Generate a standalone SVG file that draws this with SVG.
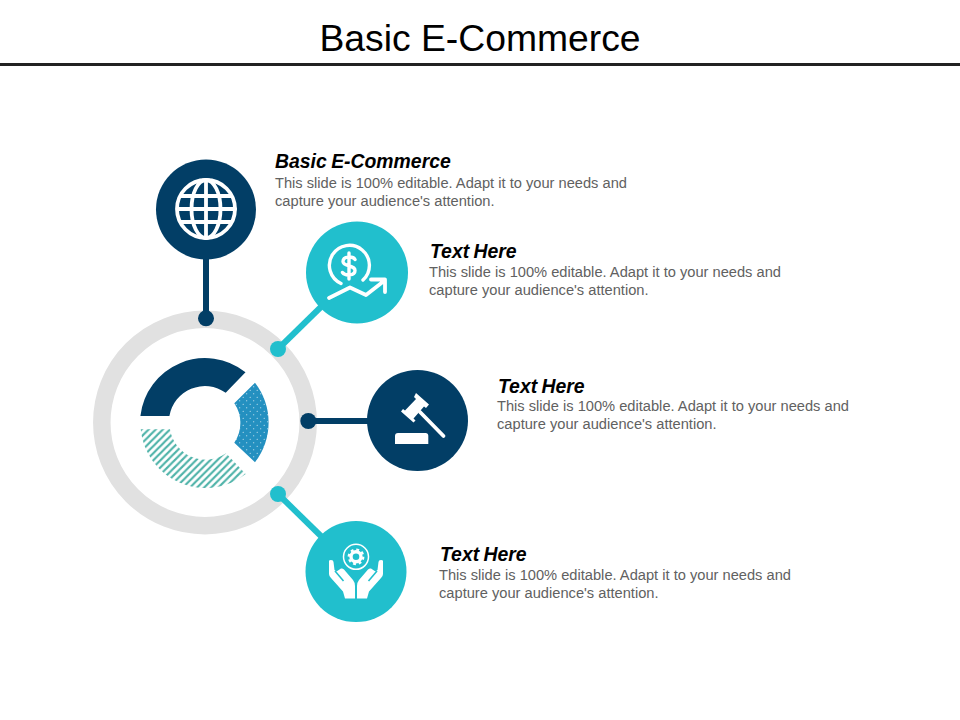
<svg xmlns="http://www.w3.org/2000/svg" width="960" height="720" viewBox="0 0 960 720">
<style>
.t{font-family:"Liberation Sans",Arial,sans-serif}
.h{font-size:19.4px;font-weight:bold;font-style:italic;fill:#000;word-spacing:-1px}
.b{font-size:14.67px;fill:#616161}
.navy{fill:#023e66}.teal{fill:#21bfcd}
.ln{fill:none;stroke-width:6}
.ic{fill:none;stroke:#fff;stroke-linecap:round;stroke-linejoin:round}
.wf{fill:#fff}
</style>
<defs>
<pattern id="hatch" width="7.1" height="7.1" patternUnits="userSpaceOnUse" patternTransform="translate(1 2)">
<path d="M-2 9.100L9.100-2M-5.550 5.550L5.550-5.550M1.550 12.650L12.650 1.550" stroke="#4fb3a9" stroke-width="2.100" fill="none"/>
</pattern>
<pattern id="dots" width="7" height="7" patternUnits="userSpaceOnUse">
<rect width="7" height="7" fill="#2490c0"/>
<circle cx="1.7" cy="1.7" r=".55" fill="#e4f2f8"/><circle cx="5.2" cy="5.2" r=".55" fill="#e4f2f8"/>
</pattern>
<g id="hand">
<path class="wf" d="M329 561Q329 560 331 560Q333.500 560 333.500 562L334.500 570L336.500 571.500L341 568.500Q342.500 568 344 569.500L353 580Q355 582.500 355 586V598.500H345L343 591.500L331 578Q329 576 329 574Z"/>
<path d="M335 571L343.500 581" stroke="#21bfcd" stroke-width="1.600" fill="none"/>
</g>
</defs>
<rect width="960" height="720" fill="#fff"/>
<g id="title">
<text class="t" x="480" y="51" text-anchor="middle" font-size="37.300" fill="#000">Basic E-Commerce</text>
<rect x="0" y="63" width="960" height="3" fill="#222"/>
</g>
<g id="hub">
<circle cx="205" cy="422.500" r="103.200" fill="none" stroke="#e1e1e1" stroke-width="17.500"/>
<path class="navy" d="M140.400 416A65 65 0 0 1 245.500 372.300L225.700 392.700A36 36 0 0 0 169.400 416Z"/>
<path fill="url(#dots)" d="M255 382.700A65 65 0 0 1 255 462.300L234.300 442.700A35 35 0 0 0 234.300 403.300Z"/>
<path fill="url(#hatch)" d="M140.700 429.300H170A36 36 0 0 0 226 453.300L245.700 474A65 65 0 0 1 140.700 429.300Z"/>
</g>
<g id="connectors">
<path class="ln" stroke="#023e66" d="M206 255V318"/>
<path class="ln" stroke="#21bfcd" d="M278 349L325 303"/>
<path class="ln" stroke="#023e66" d="M308 421H370"/>
<path class="ln" stroke="#21bfcd" d="M278 494L325 540"/>
<circle class="navy" cx="206" cy="318.300" r="8"/>
<circle class="teal" cx="278" cy="349" r="8"/>
<circle class="navy" cx="308.300" cy="421" r="8"/>
<circle class="teal" cx="278" cy="494" r="8"/>
</g>
<g id="node1">
<circle class="navy" cx="206" cy="209.500" r="50"/>
<g class="ic" stroke-width="3.800">
<circle cx="206" cy="209" r="29"/>
<ellipse cx="206" cy="209" rx="14.500" ry="29"/>
<path d="M206 180V238M178 209H235M181 196H231M181 222H231"/>
</g>
<text class="t h" x="275" y="168">Basic E-Commerce</text>
<text class="t b" x="275" y="188">This slide is 100% editable. Adapt it to your needs and</text>
<text class="t b" x="275" y="206">capture your audience's attention.</text>
</g>
<g id="node2">
<circle class="teal" cx="357" cy="272.500" r="51"/>
<g class="ic" stroke-width="3.400">
<path d="M341 283.500A20 20 0 1 1 363 280"/>
<path d="M355 259.500C353 256 343 256 343 261.500C343 267 355 264.500 355 270.500C355 276 345 276 342.500 272.500M349 253V279" stroke-width="3.400"/>
<path d="M329 298L350 287.500L366 295L384 281M371 279.500H385V292" stroke-width="3.800"/>
</g>
<text class="t h" x="430" y="258">Text Here</text>
<text class="t b" x="429" y="277">This slide is 100% editable. Adapt it to your needs and</text>
<text class="t b" x="429" y="295">capture your audience's attention.</text>
</g>
<g id="node3">
<circle class="navy" cx="417.500" cy="420.500" r="50.500"/>
<path class="wf" d="M416 393L429 404.500L426 408L424 406.500L413.500 418.500L415.500 420.500L413.500 422.500L401 411.500L403 409L405 410.500L416 399L414 397Z"/>
<path d="M420 412L443.500 436" fill="none" stroke="#fff" stroke-width="3.800" stroke-linecap="round"/>
<path class="wf" d="M395 444V436Q395 433 398 433H425.500Q428.300 433 428.300 436V444Z"/>
<text class="t h" x="498" y="393">Text Here</text>
<text class="t b" x="497" y="411">This slide is 100% editable. Adapt it to your needs and</text>
<text class="t b" x="497" y="429">capture your audience's attention.</text>
</g>
<g id="node4">
<circle class="teal" cx="356" cy="571.500" r="50.500"/>
<circle cx="356" cy="556.800" r="12.500" fill="none" stroke="#fff" stroke-width="1.500"/>
<circle cx="356" cy="556.800" r="5" fill="none" stroke="#fff" stroke-width="3.400"/>
<circle cx="356" cy="556.800" r="7.300" fill="none" stroke="#fff" stroke-width="2.200" stroke-dasharray="2.870 2.870"/>
<use href="#hand"/>
<use href="#hand" transform="translate(712) scale(-1 1)"/>
<text class="t h" x="440" y="561">Text Here</text>
<text class="t b" x="439" y="580">This slide is 100% editable. Adapt it to your needs and</text>
<text class="t b" x="439" y="598">capture your audience's attention.</text>
</g>
</svg>
